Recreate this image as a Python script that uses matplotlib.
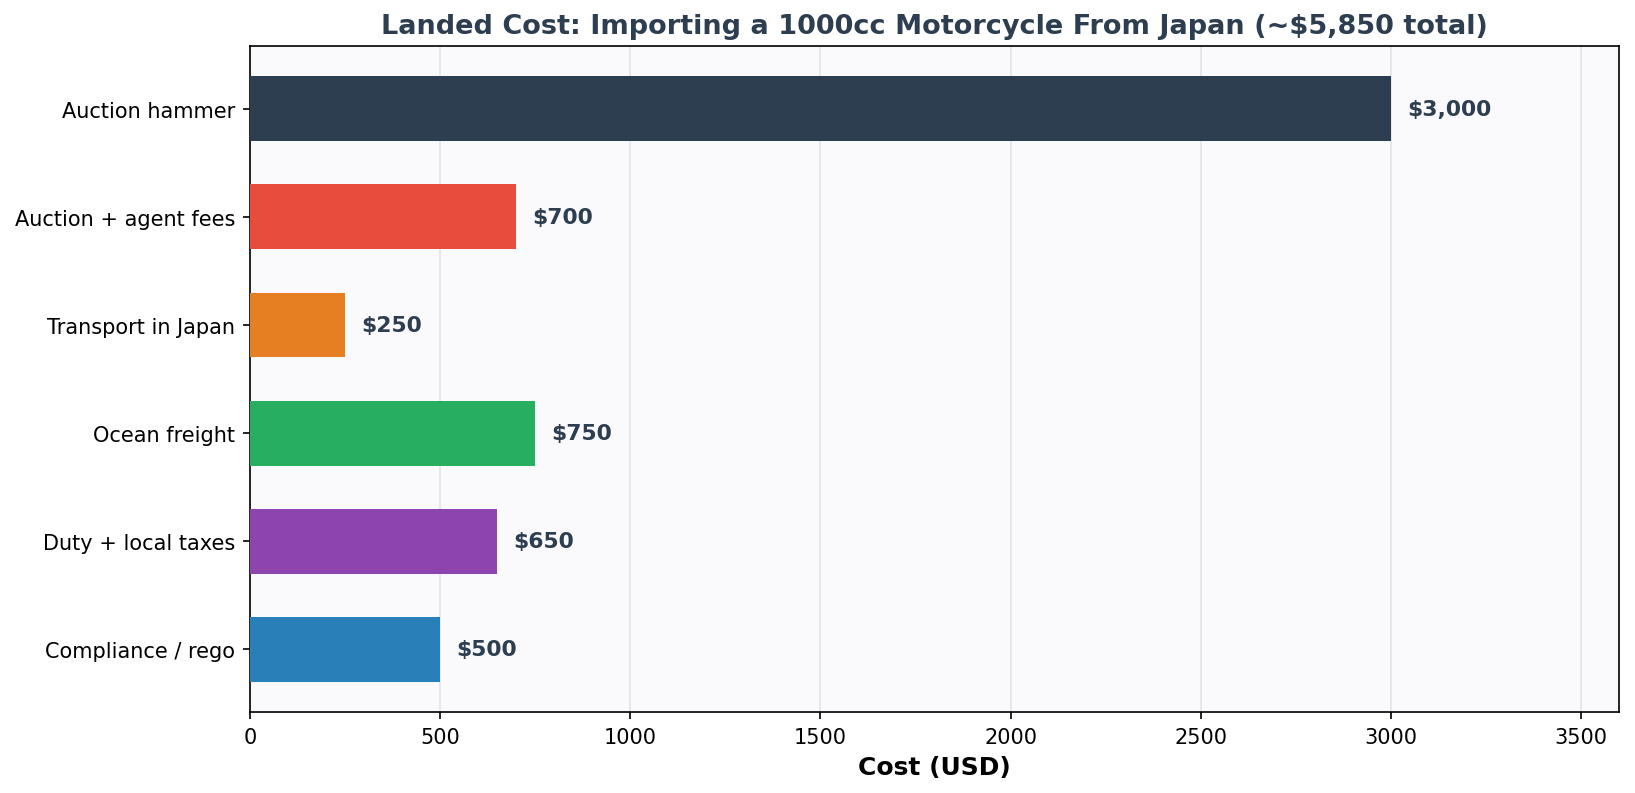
import matplotlib.pyplot as plt

# cost items, top to bottom
categories = ["Auction hammer", "Auction + agent fees", "Transport in Japan",
              "Ocean freight", "Duty + local taxes", "Compliance / rego"]
costs = [3000, 700, 250, 750, 650, 500]
colors = ["#2c3e50", "#e74c3c", "#e67e22", "#27ae60", "#8e44ad", "#2980b9"]

fig = plt.figure(figsize=(10.9, 5.293), dpi=150)
ax = fig.add_axes([250 / 1635, 1 - 713 / 794, (1619 - 250) / 1635, (713 - 47) / 794])
ax.set_facecolor("#fafafc")

ypos = list(range(len(categories)))[::-1]
bars = ax.barh(ypos, costs, color=colors, height=0.6, zorder=3)
for y, c in zip(ypos, costs):
    ax.text(c + 42, y, "${:,}".format(c), va="center", ha="left",
            fontsize=10.5, fontweight="bold", color="#2c3e50", zorder=4)

ax.set_yticks(ypos)
ax.set_yticklabels(categories, fontsize=10)
ax.tick_params(axis="x", labelsize=10)
ax.set_xlim(0, 3600)
ax.grid(axis="x", color="#bbbbbb", alpha=0.35, linewidth=0.8, zorder=0)
ax.set_xlabel("Cost (USD)", fontsize=12, fontweight="bold")
ax.set_title("Landed Cost: Importing a 1000cc Motorcycle From Japan (~$5,850 total)",
             fontsize=13, fontweight="bold", color="#2c3e50")

fig.savefig("out.png", dpi=150)
